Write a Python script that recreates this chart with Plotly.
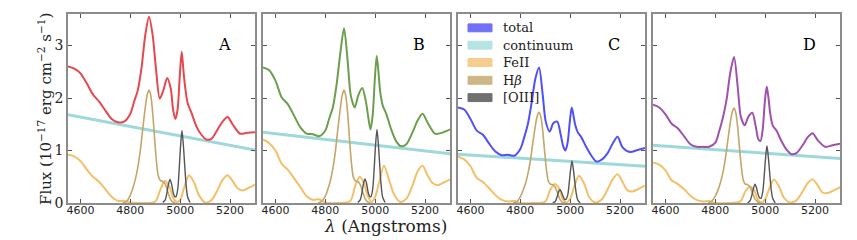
import plotly.graph_objects as go

# ---------------- data ----------------
PANELS = ["A", "B", "C", "D"]

X_TOT = [4550, 4575, 4600, 4625, 4650, 4675, 4700, 4725, 4750, 4775,
         4800, 4815, 4830, 4845, 4860, 4875, 4890, 4902, 4918, 4932,
         4948, 4962, 4972, 4981, 4990, 4998, 5006, 5013, 5020, 5030,
         5045, 5065, 5085, 5105, 5125, 5150, 5170, 5190, 5210, 5240,
         5270, 5300]
TOTAL_A = [2.60, 2.56, 2.47, 2.28, 2.07, 1.93, 1.76, 1.60, 1.54, 1.55,
           1.70, 1.93, 2.15, 2.58, 3.20, 3.55, 3.18, 2.60, 1.99, 2.14,
           2.38, 2.18, 1.76, 1.60, 1.80, 2.40, 2.88, 2.52, 2.20, 1.90,
           1.72, 1.46, 1.30, 1.21, 1.22, 1.40, 1.55, 1.64, 1.50, 1.32,
           1.34, 1.35]
TOTAL_B = [2.58, 2.53, 2.33, 2.01, 1.88, 1.66, 1.44, 1.32, 1.31, 1.27,
           1.38, 1.60, 1.82, 2.25, 2.85, 3.33, 2.68, 2.05, 1.82, 2.05,
           2.19, 1.95, 1.64, 1.40, 1.68, 2.32, 2.80, 2.50, 2.12, 1.86,
           1.69, 1.39, 1.17, 1.08, 1.12, 1.35, 1.57, 1.70, 1.53, 1.32,
           1.34, 1.40]
TOTAL_C = [1.82, 1.78, 1.60, 1.38, 1.30, 1.13, 0.98, 0.91, 0.92, 0.90,
           1.03, 1.24, 1.50, 1.90, 2.36, 2.58, 2.05, 1.55, 1.36, 1.52,
           1.55, 1.30, 1.08, 1.00, 1.16, 1.53, 1.82, 1.67, 1.49, 1.35,
           1.25, 1.06, 0.90, 0.79, 0.82, 0.95, 1.13, 1.26, 1.06, 0.97,
           1.01, 1.05]
TOTAL_D = [1.87, 1.82, 1.69, 1.51, 1.42, 1.27, 1.12, 1.07, 1.07, 1.07,
           1.15, 1.36, 1.62, 1.97, 2.48, 2.78, 2.20, 1.65, 1.48, 1.64,
           1.72, 1.46, 1.22, 1.18, 1.40, 1.90, 2.22, 2.01, 1.71, 1.48,
           1.38, 1.18, 1.02, 0.93, 0.95, 1.10, 1.25, 1.33, 1.20, 1.07,
           1.10, 1.13]

X_CONT = [4550, 5300]
CONT_A = [1.68, 1.01]
CONT_B = [1.35, 0.94]
CONT_C = [0.93, 0.70]
CONT_D = [1.10, 0.85]

X_FE = [4550, 4575, 4600, 4625, 4650, 4675, 4700, 4725, 4750, 4775,
        4800, 4850, 4900, 4920, 4938, 4955, 4970, 4985, 5000, 5015,
        5035, 5055, 5075, 5100, 5125, 5150, 5170, 5190, 5210, 5230,
        5250, 5275, 5300]
FE_A = [0.92, 0.89, 0.80, 0.64, 0.50, 0.40, 0.26, 0.12, 0.04, 0.04,
        0.01, 0.00, 0.03, 0.25, 0.42, 0.33, 0.12, 0.02, 0.06, 0.28,
        0.53, 0.40, 0.15, 0.01, 0.05, 0.25, 0.44, 0.53, 0.42, 0.28,
        0.24, 0.29, 0.35]
FE_B = [1.21, 1.14, 1.00, 0.75, 0.63, 0.47, 0.30, 0.13, 0.06, 0.07,
        0.01, 0.00, 0.04, 0.33, 0.50, 0.38, 0.14, 0.02, 0.12, 0.38,
        0.71, 0.45, 0.17, 0.02, 0.08, 0.34, 0.60, 0.71, 0.53, 0.38,
        0.34, 0.39, 0.45]
FE_C = [0.88, 0.83, 0.70, 0.48, 0.40, 0.28, 0.15, 0.06, 0.03, 0.04,
        0.00, 0.00, 0.03, 0.25, 0.36, 0.28, 0.08, 0.01, 0.08, 0.30,
        0.52, 0.38, 0.12, 0.01, 0.06, 0.26, 0.45, 0.55, 0.40, 0.24,
        0.22, 0.27, 0.33]
FE_D = [0.77, 0.73, 0.62, 0.43, 0.36, 0.26, 0.14, 0.06, 0.03, 0.04,
        0.00, 0.00, 0.03, 0.22, 0.31, 0.25, 0.07, 0.01, 0.07, 0.26,
        0.45, 0.32, 0.10, 0.01, 0.05, 0.22, 0.38, 0.45, 0.34, 0.20,
        0.19, 0.24, 0.30]

X_HB = [4770, 4785, 4800, 4810, 4820, 4830, 4840, 4850, 4860, 4868,
        4875, 4882, 4890, 4898, 4905, 4912, 4920, 4930, 4940, 4950,
        4960, 4970, 4980]
HB_A = [0.00, 0.03, 0.15, 0.28, 0.45, 0.68, 1.00, 1.42, 1.82, 2.07,
        2.15, 2.05, 1.70, 1.18, 0.78, 0.52, 0.43, 0.41, 0.36, 0.22,
        0.08, 0.02, 0.00]
HB_B = [0.00, 0.03, 0.13, 0.26, 0.42, 0.65, 0.97, 1.40, 1.80, 2.06,
        2.15, 2.04, 1.68, 1.15, 0.75, 0.50, 0.42, 0.41, 0.35, 0.21,
        0.08, 0.02, 0.00]
HB_C = [0.00, 0.02, 0.12, 0.23, 0.36, 0.55, 0.80, 1.14, 1.46, 1.66,
        1.73, 1.65, 1.37, 0.95, 0.63, 0.42, 0.36, 0.35, 0.30, 0.18,
        0.06, 0.01, 0.00]
HB_D = [0.00, 0.03, 0.13, 0.24, 0.38, 0.57, 0.84, 1.19, 1.53, 1.74,
        1.81, 1.72, 1.43, 0.99, 0.66, 0.44, 0.36, 0.35, 0.30, 0.18,
        0.07, 0.02, 0.00]

X_O3 = [4930, 4940, 4947, 4953, 4959, 4965, 4971, 4977, 4983, 4990,
        4996, 5001, 5007, 5013, 5018, 5024, 5030, 5040]
O3_A = [0.01, 0.06, 0.20, 0.36, 0.45, 0.37, 0.22, 0.13, 0.12, 0.26,
        0.65, 1.05, 1.38, 1.08, 0.72, 0.33, 0.11, 0.01]
O3_B = [0.01, 0.06, 0.20, 0.37, 0.46, 0.38, 0.22, 0.13, 0.12, 0.27,
        0.66, 1.07, 1.40, 1.10, 0.73, 0.33, 0.11, 0.01]
O3_C = [0.00, 0.03, 0.11, 0.21, 0.26, 0.21, 0.13, 0.07, 0.07, 0.15,
        0.38, 0.61, 0.80, 0.63, 0.42, 0.19, 0.06, 0.00]
O3_D = [0.00, 0.05, 0.16, 0.28, 0.36, 0.29, 0.17, 0.10, 0.09, 0.21,
        0.51, 0.83, 1.09, 0.85, 0.57, 0.26, 0.09, 0.00]

TOTALS = [TOTAL_A, TOTAL_B, TOTAL_C, TOTAL_D]
CONTS = [CONT_A, CONT_B, CONT_C, CONT_D]
FES = [FE_A, FE_B, FE_C, FE_D]
HBS = [HB_A, HB_B, HB_C, HB_D]
O3S = [O3_A, O3_B, O3_C, O3_D]

LEGEND_LABELS = ["total", "continuum", "FeII", "H<i>β</i>", "[OIII]"]
X_TICKS = [4600, 4800, 5000, 5200]
Y_TICKS = [0, 1, 2, 3]

# ---------------- styles ----------------
TOTAL_COLORS = ["rgb(229,72,78)", "rgb(108,158,78)", "rgb(80,80,246)", "rgb(158,82,172)"]
C_CONT = "rgb(158,216,218)"
C_FE = "rgb(243,192,104)"
C_HB = "rgb(196,166,106)"
C_O3 = "rgb(85,85,85)"
LEG_COLORS = ["rgb(112,112,248)", "rgb(182,227,227)", "rgb(245,205,142)",
              "rgb(206,183,132)", "rgb(112,112,112)"]

# the page body has an 8px margin: work in page pixels and subtract it
OFF = 8
WIN_W, WIN_H = 857, 240
W, H = WIN_W - OFF, WIN_H - OFF
TOP_PX, BOT_PX = 12, 203          # page pixels of plot top/bottom
LEFT_PX, RIGHT_PX = 68, 840
L, R = LEFT_PX - OFF, W - (RIGHT_PX - OFF)
T, B = TOP_PX - OFF, H - (BOT_PX - OFF)
PW = RIGHT_PX - LEFT_PX
PH = BOT_PX - TOP_PX
px_domains = [(68, 255), (263, 450), (458, 645), (653, 840)]
domains = [((a - LEFT_PX) / PW, (b - LEFT_PX) / PW) for a, b in px_domains]

fig = go.Figure()
SERIF = "DejaVu Serif"
SANS = "DejaVu Sans"

for i, p in enumerate(PANELS):
    xa = "x" if i == 0 else f"x{i+1}"
    ya = "y" if i == 0 else f"y{i+1}"
    common = dict(xaxis=xa, yaxis=ya, mode="lines", showlegend=False, hoverinfo="skip")
    fig.add_trace(go.Scatter(x=X_CONT, y=CONTS[i], line=dict(color=C_CONT, width=3), **common))
    fig.add_trace(go.Scatter(x=X_FE, y=FES[i], line=dict(color=C_FE, width=2, shape="spline", smoothing=0.8), **common))
    fig.add_trace(go.Scatter(x=X_HB, y=HBS[i], line=dict(color=C_HB, width=1.6, shape="spline", smoothing=0.8), **common))
    fig.add_trace(go.Scatter(x=X_O3, y=O3S[i], line=dict(color=C_O3, width=1.4, shape="spline", smoothing=0.8), **common))
    fig.add_trace(go.Scatter(x=X_TOT, y=TOTALS[i], line=dict(color=TOTAL_COLORS[i], width=2, shape="spline", smoothing=0.8), **common))

    axis_common = dict(showline=True, mirror="ticks", linecolor="#8c8c8c", linewidth=1.5,
                       ticks="inside", ticklen=4, tickcolor="#555", tickwidth=1,
                       showgrid=False, zeroline=False)
    xkey = "xaxis" if i == 0 else f"xaxis{i+1}"
    ykey = "yaxis" if i == 0 else f"yaxis{i+1}"
    fig.update_layout(**{
        xkey: dict(domain=list(domains[i]), range=[4550, 5300], tickvals=X_TICKS,
                   anchor=ya, ticklabelstandoff=-4,
                   tickfont=dict(family=SANS, size=11, color="#222"), **axis_common),
        ykey: dict(domain=[0, 1], range=[0, 3.6], tickvals=Y_TICKS, anchor=xa,
                   showticklabels=(i == 0),
                   tickfont=dict(family=SERIF, size=14, color="#222"), **axis_common),
    })
    fig.add_annotation(x=5176, y=3.02, xref=xa, yref=ya, text=p, showarrow=False,
                       font=dict(family=SERIF, size=16, color="black"),
                       xanchor="center", yanchor="middle")

# manual legend in panel C (page pixel positions)
row_px = [26, 43.5, 61, 79, 96.5]
pl, pr = px_domains[2]
for lab, col, ry in zip(LEGEND_LABELS, LEG_COLORS, row_px):
    yc = (BOT_PX - ry) / PH
    hh = 4 / PH
    fig.add_shape(type="rect", xref="x3 domain", yref="y3 domain",
                  x0=(468 - pl) / (pr - pl), x1=(492 - pl) / (pr - pl),
                  y0=yc - hh, y1=yc + hh, fillcolor=col, line=dict(color=col, width=1))
    fig.add_annotation(xref="x3 domain", yref="y3 domain", x=(501 - pl) / (pr - pl), y=yc,
                       text=lab, showarrow=False, xanchor="left", yanchor="middle",
                       font=dict(family=SERIF, size=13, color="#222"))

# axis titles (page pixel centres converted to paper coords)
fig.add_annotation(xref="paper", yref="paper", x=(385 - LEFT_PX) / PW, y=(BOT_PX - 226.5) / PH,
                   text="<i>λ</i> (Angstroms)", showarrow=False, xanchor="center", yanchor="middle",
                   font=dict(family=SERIF, size=17, color="#222"))
fig.add_annotation(xref="paper", yref="paper", x=(45 - LEFT_PX) / PW, y=(BOT_PX - 108) / PH,
                   text="Flux (10<sup>−17</sup> erg cm<sup>−2</sup> s<sup>−1</sup>)", showarrow=False,
                   textangle=-90, xanchor="center", yanchor="middle",
                   font=dict(family=SERIF, size=15, color="#222"))

fig.update_layout(width=W, height=H, margin=dict(l=L, r=R, t=T, b=B),
                  paper_bgcolor="white", plot_bgcolor="white", showlegend=False)

fig.write_html("out.html")
